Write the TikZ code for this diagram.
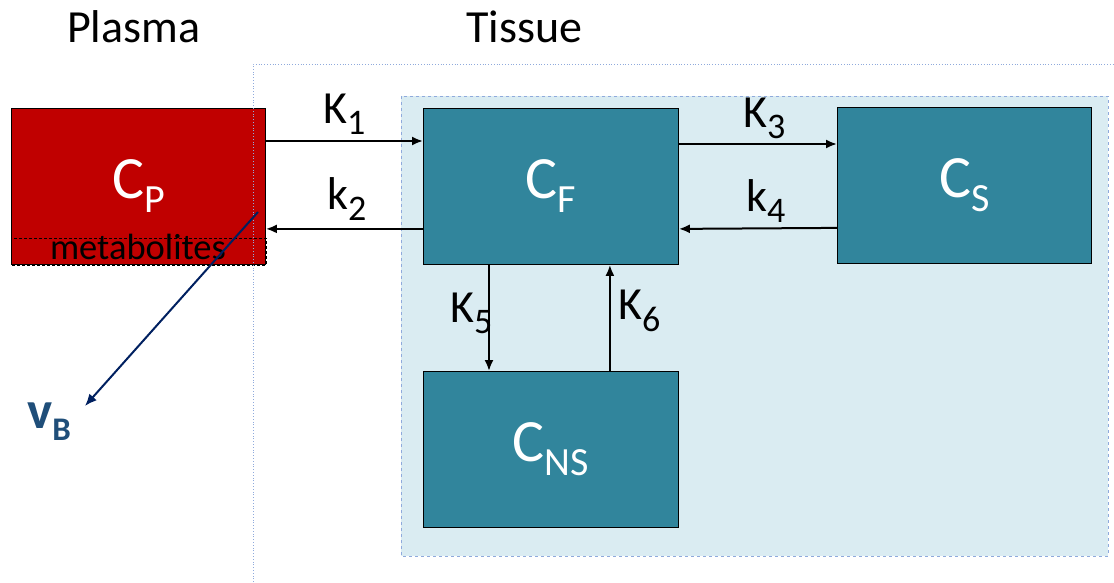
\documentclass[tikz,border=0pt]{standalone}
\usepackage{fontspec}
\setmainfont{Carlito}
\usetikzlibrary{arrows.meta,calc}
\definecolor{boxteal}{RGB}{49,133,156}
\definecolor{plasmared}{RGB}{192,0,0}
\definecolor{tissuefill}{RGB}{218,236,242}
\definecolor{tissueline}{RGB}{143,170,220}
\definecolor{vbarrow}{RGB}{0,32,96}
\definecolor{vbtext}{RGB}{31,78,121}
\newcommand{\cmpname}[2]{\fontsize{60}{60}\selectfont #1\raisebox{-14pt}{\fontsize{40}{40}\selectfont #2}}
\newcommand{\ratename}[2]{\fontsize{46}{46}\selectfont #1\raisebox{-11pt}{\fontsize{36}{36}\selectfont #2}}
\begin{document}
\begin{tikzpicture}[x=1pt,y=1pt,
  compbox/.style={draw=black, line width=0.9pt, inner sep=0pt, anchor=north west,
    minimum height=156pt, text=white},
  arr/.style={line width=2pt, -{Latex[length=11pt,width=9pt]}},
  ratelbl/.style={anchor=base west, inner sep=0pt, text=black},
  title/.style={anchor=base west, inner sep=0pt, font=\fontsize{46}{46}\selectfont}]
\useasboundingbox (0,0) rectangle (1114,582);
% tissue regions
\draw[fill=tissuefill, draw=tissueline, dashed, line width=0.7pt] (401,486) rectangle (1108,26);
% titles
\node[title] (plasmatitle) at (67,539) {Plasma};
\node[title] (tissuetitle) at (466,539) {Tissue};
% compartments
\node[compbox, fill=plasmared, minimum width=254pt] (cp) at (11,474) {\cmpname{C}{P}};
\node[compbox, fill=boxteal, minimum width=255pt] (cf) at (423,474) {\cmpname{C}{F}};
\node[compbox, fill=boxteal, minimum width=254pt] (cs) at (837,475) {\cmpname{C}{S}};
\node[compbox, fill=boxteal, minimum width=255pt] (cns) at (423,211) {\cmpname{C}{NS}};
% metabolites
\draw[densely dashed, line width=0.6pt] (cp.south west) rectangle ($(cp.south east)+(0,27)$);
\node[anchor=base, inner sep=0pt, font=\fontsize{36.5}{36.5}\selectfont] (metab) at (138,322) {metabolites};
% outer tissue border
\draw[tissueline, dotted, line width=0.8pt] (253,0) -- (253,518) -- (1114,518);
% arrows
\draw[arr] ([yshift=-33pt]cp.north east) -- ([yshift=-33pt]cf.north west);
\draw[arr] ([yshift=36pt]cf.south west) -- ([yshift=36pt]cp.south east);
\draw[arr] ([yshift=-36pt]cf.north east) -- ([yshift=-37pt]cs.north west);
\draw[arr] ([yshift=36pt]cs.south west) -- ([yshift=36pt]cf.south east);
\draw[arr] ([xshift=66pt]cf.south west) -- ([xshift=66pt]cns.north west);
\draw[arr] ([xshift=-69pt]cns.north east) -- ([xshift=-69pt]cf.south east);
% rate labels
\node[ratelbl] (k1) at (323,458) {\ratename{K}{1}};
\node[ratelbl] (k2) at (327,372) {\ratename{k}{2}};
\node[ratelbl] (k3) at (743,454) {\ratename{K}{3}};
\node[ratelbl] (k4) at (746,370) {\ratename{k}{4}};
\node[ratelbl] (k5) at (450,260) {\ratename{K}{5}};
\node[ratelbl] (k6) at (618,262) {\ratename{K}{6}};
% vB
\coordinate (vbs) at (258,370);
\coordinate (vbe) at (85,176);
\draw[vbarrow, line width=2pt, -{Latex[length=12pt,width=10pt]}] (vbs) -- (vbe);
\node[anchor=base west, inner sep=0pt, text=vbtext, font=\bfseries] (vb) at (27,154)
  {\fontsize{53}{53}\selectfont v\raisebox{-12pt}{\fontsize{33}{33}\selectfont B}};
\end{tikzpicture}
\end{document}
